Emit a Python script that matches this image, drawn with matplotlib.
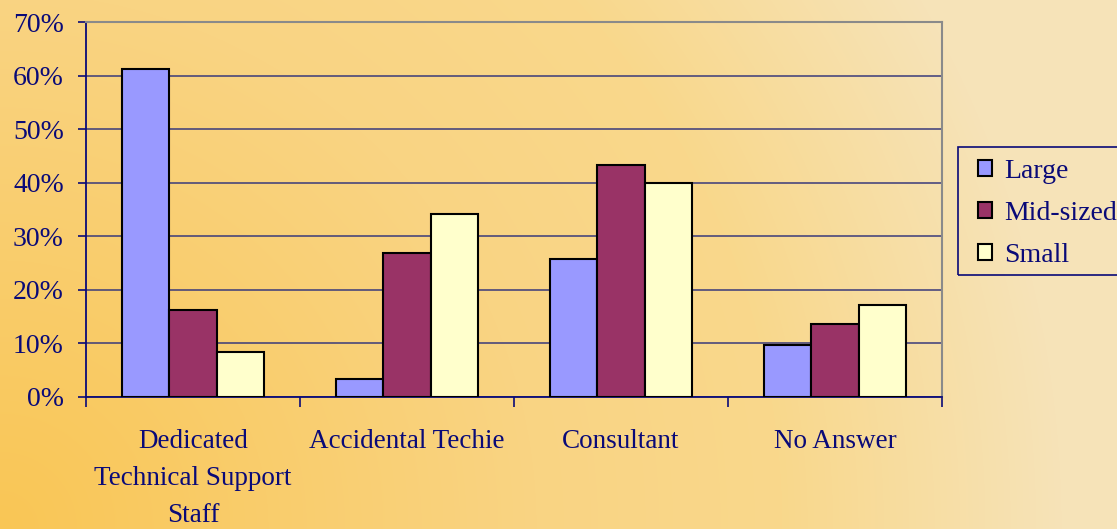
import numpy as np
import matplotlib
matplotlib.use("Agg")
import matplotlib.pyplot as plt
from matplotlib.colors import to_rgb
from matplotlib.patches import Rectangle

categories = ["Dedicated\nTechnical Support\nStaff", "Accidental Techie", "Consultant", "No Answer"]
series_names = ["Large", "Mid-sized", "Small"]
large = [61.2, 3.4, 25.8, 9.8]
mid_sized = [16.2, 26.9, 43.3, 13.6]
small = [8.4, 34.2, 39.9, 17.2]
y_ticks = [0, 10, 20, 30, 40, 50, 60, 70]
y_tick_labels = ["0%", "10%", "20%", "30%", "40%", "50%", "60%", "70%"]

colors = ["#9999FF", "#993366", "#FFFFCC"]
navy = "#0a0a78"

plt.rcParams["font.family"] = ["Liberation Serif", "DejaVu Serif"]

W, H = 1117, 529
fig = plt.figure(figsize=(W / 100, H / 100), dpi=100)

# warm gradient backdrop, strongest in the lower-left corner
bg = fig.add_axes([0, 0, 1, 1], zorder=-10)
yy, xx = np.mgrid[0:H, 0:W]
r = np.hypot(xx, (H - 1 - yy)) / W
stops = [0.0, 0.48, 0.70, 0.95, 1.3]
stop_cols = [to_rgb(c) for c in ["#FAC655", "#F9D483", "#F9D88C", "#F6E3B8", "#F6E3B8"]]
img = np.zeros((H, W, 3))
for ch in range(3):
    img[..., ch] = np.interp(r, stops, [c[ch] for c in stop_cols])
bg.imshow(img, aspect="auto", extent=[0, 1, 0, 1], origin="upper")
bg.set_axis_off()

ax = fig.add_axes([86 / W, 1 - 397 / H, (942 - 86) / W, (397 - 22) / H])
ax.patch.set_alpha(0)

x = np.arange(len(categories))
bw = 0.22
for i, (vals, name) in enumerate(zip([large, mid_sized, small], series_names)):
    ax.bar(x + (i - 1) * bw, vals, width=bw, color=colors[i], edgecolor="black",
           linewidth=1.5, label=name, zorder=3)

ax.set_xlim(-0.5, len(categories) - 0.5)
ax.set_ylim(0, 70)
ax.set_yticks(y_ticks)
ax.set_yticklabels(y_tick_labels)
ax.yaxis.grid(True, color="#3a3a7a", linewidth=1.1, zorder=0)
ax.set_axisbelow(True)

ax.set_xticks(x)
ax.set_xticklabels(categories, linespacing=1.63)
ax.set_xticks(np.arange(-0.5, len(categories), 1.0), minor=True)
ax.tick_params(axis="x", which="major", length=0, pad=23, labelsize=19.5, labelcolor=navy)
ax.tick_params(axis="x", which="minor", length=7, width=1.2, color=navy, direction="out")
ax.tick_params(axis="y", length=6, width=1.2, color=navy, pad=10, labelsize=20, labelcolor=navy)

for s in ["left", "bottom"]:
    ax.spines[s].set_color(navy)
    ax.spines[s].set_linewidth(1.3)
for s in ["top", "right"]:
    ax.spines[s].set_color("#8a8a8a")
    ax.spines[s].set_linewidth(1.5)

# legend entries, with a separate frame that runs off the right edge
leg = fig.legend(loc="upper left", bbox_to_anchor=(975 / W, 1 - 156 / H),
                 fontsize=20, frameon=False, handlelength=0.5,
                 handleheight=0.5, handletextpad=0.45, labelspacing=0.62,
                 borderpad=0.1, borderaxespad=0, labelcolor=navy)
fig.add_artist(Rectangle((958 / W, 1 - 275 / H), 200 / W, 128 / H,
                         transform=fig.transFigure, facecolor="none",
                         edgecolor=navy, linewidth=1.2))

fig.savefig("out.png", dpi=100)
